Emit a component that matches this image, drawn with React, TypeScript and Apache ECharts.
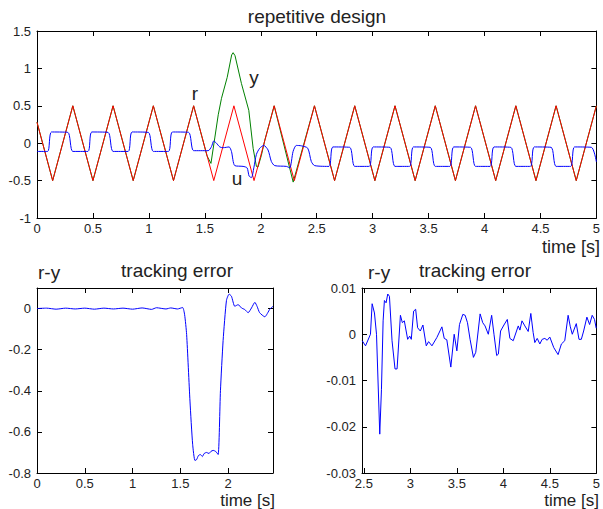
import React, { useEffect, useRef } from "react";
import * as echarts from "echarts";

// reference r (triangle wave vertices)
const rT = [0, 0.14, 0.32, 0.5, 0.68, 0.86, 1.04, 1.22, 1.4, 1.58, 1.76, 1.94, 2.12, 2.3, 2.48, 2.66, 2.84, 3.02, 3.2, 3.38, 3.56, 3.74, 3.92, 4.1, 4.28, 4.46, 4.64, 4.82, 5.0];
const rV = [0.28, -0.5, 0.5, -0.5, 0.5, -0.5, 0.5, -0.5, 0.5, -0.5, 0.5, -0.5, 0.5, -0.5, 0.5, -0.5, 0.5, -0.5, 0.5, -0.5, 0.5, -0.5, 0.5, -0.5, 0.5, -0.5, 0.5, -0.5, 0.5];

// output y
const yT = [0, 0.14, 0.32, 0.5, 0.68, 0.86, 1.04, 1.22, 1.4, 1.52, 1.555, 1.589, 1.62, 1.649, 1.7, 1.74, 1.753, 1.77, 1.827, 1.893, 1.932, 1.961, 1.975, 2.006, 2.036, 2.12, 2.29, 2.48, 2.66, 2.84, 3.02, 3.2, 3.38, 3.56, 3.74, 3.92, 4.1, 4.28, 4.46, 4.64, 4.82, 5.0];
const yV = [0.28, -0.5, 0.5, -0.5, 0.5, -0.5, 0.5, -0.5, 0.5, -0.17, -0.27, 0.07, 0.38, 0.6, 0.88, 1.18, 1.21, 1.17, 0.8, 0.44, -0.07, -0.31, -0.32, -0.16, 0.04, 0.5, -0.52, 0.5, -0.5, 0.5, -0.5, 0.5, -0.5, 0.5, -0.5, 0.5, -0.5, 0.5, -0.5, 0.5, -0.5, 0.5];

// control u
const uT = [0, 0.095, 0.13, 0.275, 0.32, 0.455, 0.49, 0.635, 0.68, 0.815, 0.85, 0.995, 1.04, 1.175, 1.21, 1.355, 1.4, 1.53, 1.56, 1.58, 1.604, 1.634, 1.664, 1.717, 1.738, 1.768, 1.842, 1.878, 1.896, 1.917, 1.938, 1.961, 1.991, 2.027, 2.065, 2.095, 2.125, 2.229, 2.259, 2.289, 2.318, 2.363, 2.42, 2.452, 2.482, 2.61, 2.645, 2.795, 2.84, 2.97, 3.005, 3.155, 3.2, 3.33, 3.365, 3.515, 3.56, 3.69, 3.725, 3.875, 3.92, 4.05, 4.085, 4.235, 4.28, 4.41, 4.445, 4.595, 4.64, 4.77, 4.805, 4.955, 5.0];
const uV = [-0.11, -0.11, 0.15, 0.145, -0.11, -0.11, 0.15, 0.145, -0.11, -0.11, 0.15, 0.145, -0.11, -0.11, 0.15, 0.145, -0.1, -0.1, -0.045, 0.03, 0.0, -0.05, -0.06, -0.05, -0.11, -0.3, -0.31, -0.33, -0.44, -0.46, -0.33, -0.15, -0.067, -0.03, -0.09, -0.245, -0.3, -0.31, -0.33, -0.11, -0.03, -0.035, -0.067, -0.245, -0.3, -0.31, -0.05, -0.055, -0.31, -0.31, -0.05, -0.055, -0.31, -0.31, -0.05, -0.055, -0.31, -0.31, -0.05, -0.055, -0.31, -0.31, -0.05, -0.055, -0.31, -0.31, -0.05, -0.055, -0.31, -0.31, -0.05, -0.055, -0.25];

// tracking error r-y, first half
const e1T = [0, 0.1, 0.2, 0.3, 0.4, 0.5, 0.6, 0.7, 0.8, 0.9, 1.0, 1.1, 1.2, 1.25, 1.35, 1.4, 1.47, 1.524, 1.545, 1.566, 1.601, 1.629, 1.653, 1.67, 1.69, 1.71, 1.73, 1.75, 1.774, 1.8, 1.82, 1.844, 1.87, 1.896, 1.92, 1.948, 1.983, 2.011, 2.035, 2.07, 2.105, 2.14, 2.175, 2.21, 2.245, 2.28, 2.304, 2.33, 2.384, 2.437, 2.47];
const e1V = [0, 0.002, -0.003, 0.002, -0.002, 0.002, -0.003, 0.002, -0.002, 0.002, -0.003, 0.003, -0.004, 0.004, -0.002, 0.003, -0.002, 0.005, -0.03, -0.126, -0.45, -0.66, -0.739, -0.735, -0.715, -0.71, -0.72, -0.705, -0.7, -0.705, -0.695, -0.69, -0.695, -0.71, -0.4, -0.155, 0.04, 0.07, 0.06, 0.011, 0.019, 0.003, -0.005, -0.02, 0.003, 0.03, 0.01, -0.02, -0.04, -0.003, 0.011];

// tracking error r-y, second half
const e2T = [2.482, 2.518, 2.571, 2.589, 2.614, 2.636, 2.671, 2.689, 2.707, 2.721, 2.739, 2.757, 2.775, 2.803, 2.835, 2.857, 2.893, 2.914, 2.935, 2.971, 2.993, 3.01, 3.035, 3.057, 3.078, 3.107, 3.135, 3.171, 3.196, 3.232, 3.285, 3.339, 3.364, 3.392, 3.435, 3.471, 3.5, 3.528, 3.564, 3.589, 3.614, 3.642, 3.678, 3.703, 3.75, 3.778, 3.803, 3.838, 3.874, 3.899, 3.928, 3.946, 3.97, 4.006, 4.042, 4.07, 4.106, 4.16, 4.178, 4.2, 4.231, 4.267, 4.295, 4.32, 4.338, 4.364, 4.392, 4.417, 4.446, 4.471, 4.499, 4.542, 4.588, 4.624, 4.66, 4.696, 4.72, 4.741, 4.784, 4.813, 4.838, 4.863, 4.898, 4.927, 4.955, 4.98, 4.998];
const e2V = [-0.0014, -0.0025, 0, 0.0066, 0.0046, 0, -0.0216, -0.012, 0.0029, 0.0073, 0.0068, 0.0087, 0.0082, -0.0014, -0.0075, -0.0075, 0.0041, 0.0025, 0.0029, -0.0011, -0.0004, -0.0011, 0.005, 0.0054, 0.0014, 0.0007, 0.002, -0.0025, -0.0016, -0.0025, -0.0007, 0.0016, -0.0009, -0.0012, -0.0071, 0, -0.0036, 0.0021, 0.0043, 0.0041, 0.0025, -0.0011, -0.005, -0.0039, 0.0044, 0.0025, 0.0018, 0, 0.0041, 0, -0.0046, -0.0043, 0.0007, 0.002, 0.0032, -0.0009, -0.0014, 0.0018, 0.0009, 0.0029, 0.0018, 0.0006, 0.0045, 0.0004, -0.0018, -0.0009, -0.0021, -0.0011, -0.0009, -0.0013, -0.0006, -0.0029, -0.0044, -0.0021, -0.0014, 0.0041, 0.0016, 0, 0.0023, -0.0011, -0.0011, 0.0007, 0.0037, 0.0021, 0.0041, 0.0032, 0.0013];

const pairs = (t: number[], v: number[]) => t.map((x, i) => [x, v[i]]);

const FONT = "'Liberation Sans', Arial, Helvetica, sans-serif";

export default function App() {
  const ref = useRef<HTMLDivElement>(null);
  useEffect(() => {
    const chart = echarts.init(ref.current!, null, { renderer: "svg" });

    const lineStyle = { color: "#000", width: 1 };
    const mkX = (grid: number, pos: string, labels: boolean, o: any) => ({
      type: "value",
      gridIndex: grid,
      position: pos,
      ...o,
      axisLine: { show: true, onZero: false, lineStyle },
      axisTick: { show: true, inside: true, length: 5, lineStyle },
      axisLabel: {
        show: labels,
        color: "#222",
        fontSize: 13,
        fontFamily: FONT,
        margin: 4,
        showMinLabel: o.hideMin ? false : true,
        showMaxLabel: o.hideMax ? false : true,
      },
      splitLine: { show: false },
    });
    const mkY = (grid: number, pos: string, labels: boolean, o: any) => ({
      type: "value",
      gridIndex: grid,
      position: pos,
      ...o,
      axisLine: { show: true, onZero: false, lineStyle },
      axisTick: { show: true, inside: true, length: 5, lineStyle },
      axisLabel: {
        show: labels,
        color: "#222",
        fontSize: 13,
        fontFamily: FONT,
        margin: 6,
        showMaxLabel: o.hideMax ? false : true,
      },
      splitLine: { show: false },
    });

    const x0 = { min: 0, max: 5, interval: 0.5 };
    const y0 = { min: -1, max: 1.5, interval: 0.5 };
    const x1 = { min: 0, max: 2.47, interval: 0.5, hideMax: true };
    const y1 = { min: -0.8, max: 0.1, interval: 0.2, hideMax: true };
    const x2 = { min: 2.48, max: 5, splitNumber: 5, hideMin: true };
    const y2 = { min: -0.03, max: 0.01, interval: 0.01 };

    const txt = (text: string, x: number, y: number, align: string, size = 19) => ({
      type: "text",
      x,
      y,
      silent: true,
      style: {
        text,
        fill: "#222",
        fontSize: size,
        fontFamily: FONT,
        align,
        verticalAlign: "middle",
      },
    });

    chart.setOption({
      animation: false,
      backgroundColor: "#fff",
      grid: [
        { left: 37, top: 31, width: 560, height: 187 },
        { left: 37, top: 288, width: 236, height: 185 },
        { left: 362, top: 288, width: 235, height: 185 },
      ],
      xAxis: [
        mkX(0, "bottom", true, x0),
        mkX(0, "top", false, x0),
        mkX(1, "bottom", true, x1),
        mkX(1, "top", false, x1),
        mkX(2, "bottom", true, x2),
        mkX(2, "top", false, x2),
      ],
      yAxis: [
        mkY(0, "left", true, y0),
        mkY(0, "right", false, y0),
        mkY(1, "left", true, y1),
        mkY(1, "right", false, y1),
        mkY(2, "left", true, y2),
        mkY(2, "right", false, y2),
      ],
      series: [
        {
          type: "line",
          name: "y",
          xAxisIndex: 0,
          yAxisIndex: 0,
          data: pairs(yT, yV),
          showSymbol: false,
          lineStyle: { color: "#008000", width: 1 },
        },
        {
          type: "line",
          name: "r",
          xAxisIndex: 0,
          yAxisIndex: 0,
          data: pairs(rT, rV),
          showSymbol: false,
          lineStyle: { color: "#ff0000", width: 1 },
        },
        {
          type: "line",
          name: "u",
          xAxisIndex: 0,
          yAxisIndex: 0,
          data: pairs(uT, uV),
          showSymbol: false,
          smooth: 0.25,
          lineStyle: { color: "#0000ff", width: 1 },
        },
        {
          type: "line",
          name: "e1",
          xAxisIndex: 2,
          yAxisIndex: 2,
          data: pairs(e1T, e1V),
          showSymbol: false,
          smooth: 0.2,
          lineStyle: { color: "#0000ff", width: 1 },
        },
        {
          type: "line",
          name: "e2",
          xAxisIndex: 4,
          yAxisIndex: 4,
          data: pairs(e2T, e2V),
          showSymbol: false,
          lineStyle: { color: "#0000ff", width: 1 },
        },
      ],
      graphic: [
        txt("repetitive design", 317, 16, "center"),
        txt("time [s]", 600, 247, "right", 18),
        txt("r", 195, 93, "center"),
        txt("y", 254, 77, "center"),
        txt("u", 237, 178, "center"),
        txt("r-y", 38, 272, "left"),
        txt("tracking error", 177, 270, "center"),
        txt("time [s]", 275, 500, "right", 17),
        txt("r-y", 368, 272, "left"),
        txt("tracking error", 475, 270, "center"),
        txt("time [s]", 599, 500, "right", 17),
      ],
    });
    return () => chart.dispose();
  }, []);
  return (
    <div
      ref={ref}
      style={{ position: "fixed", left: 0, top: 0, width: 603, height: 509 }}
    />
  );
}
